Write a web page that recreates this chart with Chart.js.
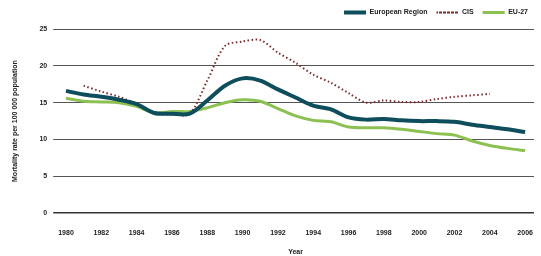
<!DOCTYPE html>
<html><head><meta charset="utf-8">
<script src="https://cdn.jsdelivr.net/npm/chart.js@4/dist/chart.umd.min.js"></script>
<style>html,body{margin:0;padding:0;background:#fff}#w{width:541px;height:256px}</style>
</head><body><div id="w"><canvas id="c"></canvas></div>
<script>
const years = ["1980","1981","1982","1983","1984","1985","1986","1987","1988","1989","1990","1991","1992","1993","1994","1995","1996","1997","1998","1999","2000","2001","2002","2003","2004","2005","2006"];
const europeanRegion = [16.6,16.1,15.8,15.4,14.8,13.6,13.5,13.5,15.3,17.3,18.3,18.0,16.8,15.7,14.6,14.1,13.0,12.7,12.8,12.6,12.5,12.5,12.4,12.0,11.7,11.4,11.0];
const cis = [null,17.3,16.5,15.8,14.8,13.6,13.4,13.5,18.0,22.7,23.3,23.5,21.8,20.4,18.8,17.7,16.3,15.0,15.3,15.1,15.1,15.5,15.8,16.0,16.2,null,null];
const eu27 = [15.6,15.2,15.1,15.0,14.5,13.6,13.8,13.8,14.3,15.0,15.4,15.2,14.2,13.2,12.6,12.4,11.7,11.6,11.6,11.4,11.1,10.8,10.6,9.8,9.2,8.8,8.5];
const yTicks = [0,5,10,15,20,25];
const font = {family:"'Liberation Sans Narrow','Liberation Sans',Arial,sans-serif", size:7, weight:'bold'};
const legendGap = {id:'legendGap', beforeInit(chart){ const lg = chart.legend; const orig = lg.fit; lg.fit = function(){ orig.call(this); this.height += 3; }; }};
new Chart(document.getElementById('c'), {
  type:'line',
  plugins:[legendGap],
  data:{labels:years, datasets:[
    {label:'European Region', data:europeanRegion, borderColor:'#0e4d5c', backgroundColor:'#0e4d5c', borderWidth:4, pointRadius:0, tension:0.3},
    {label:'CIS', data:cis, borderColor:'#7a2a2a', backgroundColor:'#7a2a2a', borderWidth:2, borderDash:[1.5,2.5], pointRadius:0, tension:0.3},
    {label:'EU-27', data:eu27, borderColor:'#8cc152', backgroundColor:'#8cc152', borderWidth:3, pointRadius:0, tension:0.3}
  ]},
  options:{
    responsive:true, maintainAspectRatio:false, animation:false,
    layout:{padding:{left:7,right:4,top:0,bottom:0}},
    plugins:{
      legend:{position:'top', align:'end', labels:{font:font, color:'#222', boxWidth:22, boxHeight:0, padding:9}},
      tooltip:{enabled:false}
    },
    scales:{
      x:{offset:true, grid:{display:false}, border:{display:false},
         ticks:{autoSkip:false, maxRotation:0, font:font, color:'#222', padding:8, callback:function(v,i){return i%2===0?years[i]:'';}},
         title:{display:true, text:'Year', font:font, color:'#222', padding:{top:2,bottom:0}}},
      y:{min:0, max:25, afterBuildTicks:function(s){s.ticks=yTicks.map(v=>({value:v}));},
         grid:{color:function(c){return c.tick && c.tick.value===0?'#333':'#555';}, lineWidth:function(c){return c.tick && c.tick.value===0?1.5:1;}, drawTicks:true, tickLength:4}, border:{display:false},
         ticks:{font:font, color:'#222', padding:6},
         title:{display:true, text:'Mortality rate per 100 000 population', font:font, color:'#222', padding:{bottom:14}}}
    }
  }
});
</script></body></html>
